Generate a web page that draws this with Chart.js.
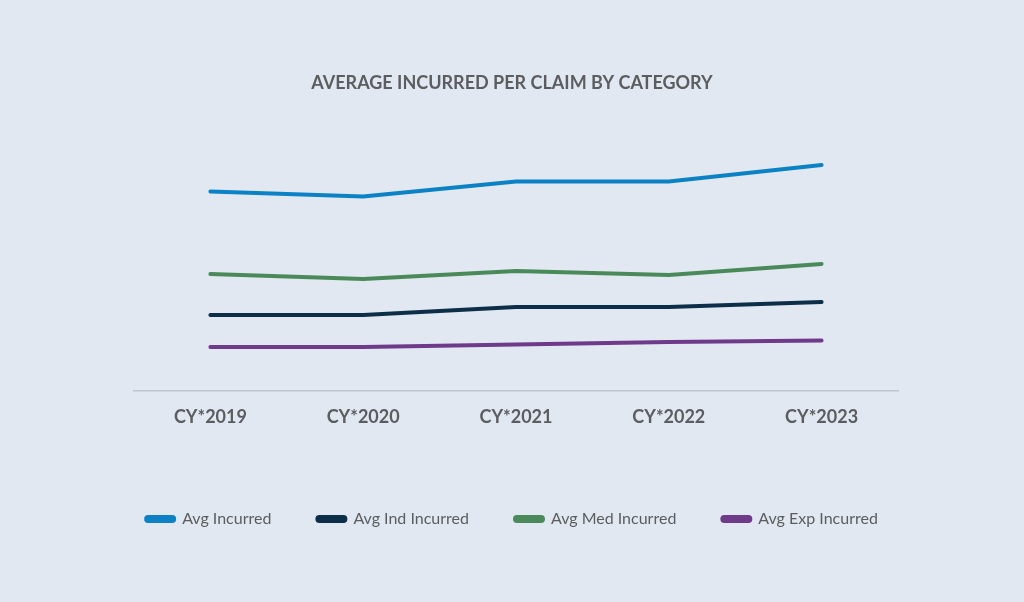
<!DOCTYPE html>
<html>
<head>
<meta charset="utf-8">
<script src="https://cdn.jsdelivr.net/npm/chart.js@4"></script>
<style>
  html, body { margin: 0; padding: 0; background: #e1e8f1; }
  #wrap { width: 1024px; height: 602px; }
</style>
</head>
<body>
<div id="wrap"><canvas id="grafica"></canvas></div>
<script>
const years = ['CY*2019', 'CY*2020', 'CY*2021', 'CY*2022', 'CY*2023'];
const avgIncurred = [39800, 38800, 41800, 41800, 45100];
const avgIndIncurred = [15100, 15100, 16700, 16700, 17700];
const avgMedIncurred = [23300, 22300, 23900, 23100, 25300];
const avgExpIncurred = [8700, 8700, 9200, 9700, 10000];

const gris = '#5b5d60';

function serie(label, data, color) {
    return {
        label: label,
        data: data,
        borderColor: color,
        backgroundColor: color,
        borderWidth: 4,
        pointRadius: 0,
        tension: 0,
        borderCapStyle: 'round'
    };
}

// ejes invisibles que solo reservan margen a los lados
function margen(ancho, pos) {
    return {
        position: pos,
        display: true,
        min: 0,
        max: 50000,
        grid: { display: false, drawTicks: false },
        border: { display: false },
        ticks: { display: false },
        afterFit: (scale) => { scale.width = ancho; }
    };
}

let ctx = document.getElementById('grafica').getContext('2d');

let grafica = new Chart(ctx, {
    type: 'line',
    data: {
        labels: years,
        datasets: [
            serie('Avg Incurred', avgIncurred, '#0b82c6'),
            serie('Avg Ind Incurred', avgIndIncurred, '#0d2e48'),
            serie('Avg Med Incurred', avgMedIncurred, '#4a8a5a'),
            serie('Avg Exp Incurred', avgExpIncurred, '#6f3a8a')
        ]
    },
    options: {
        responsive: true,
        maintainAspectRatio: false,
        animation: false,
        layout: {
            padding: { left: 0, right: 0, top: 0, bottom: 65 }
        },
        scales: {
            x: {
                offset: true,
                grid: { display: false, drawTicks: false },
                border: { display: true, color: '#bfc5cb', width: 1.5 },
                ticks: {
                    color: gris,
                    padding: 16,
                    font: { family: 'Lato', size: 18, weight: 'bold' }
                }
            },
            y: margen(134, 'left'),
            y2: margen(126, 'right')
        },
        plugins: {
            title: {
                display: true,
                text: 'AVERAGE INCURRED PER CLAIM BY CATEGORY',
                color: gris,
                font: { family: 'Lato', size: 18, weight: 'bold' },
                padding: { top: 72, bottom: 47 }
            },
            legend: {
                position: 'bottom',
                title: {
                    display: true,
                    text: ' ',
                    font: { size: 10 },
                    padding: { top: 9, bottom: 0 }
                },
                labels: {
                    color: gris,
                    boxWidth: 28,
                    boxHeight: 4,
                    padding: 46,
                    useBorderRadius: true,
                    borderRadius: 2,
                    font: { family: 'Lato', size: 16 }
                }
            },
            tooltip: { enabled: false }
        }
    }
});
</script>
</body>
</html>
